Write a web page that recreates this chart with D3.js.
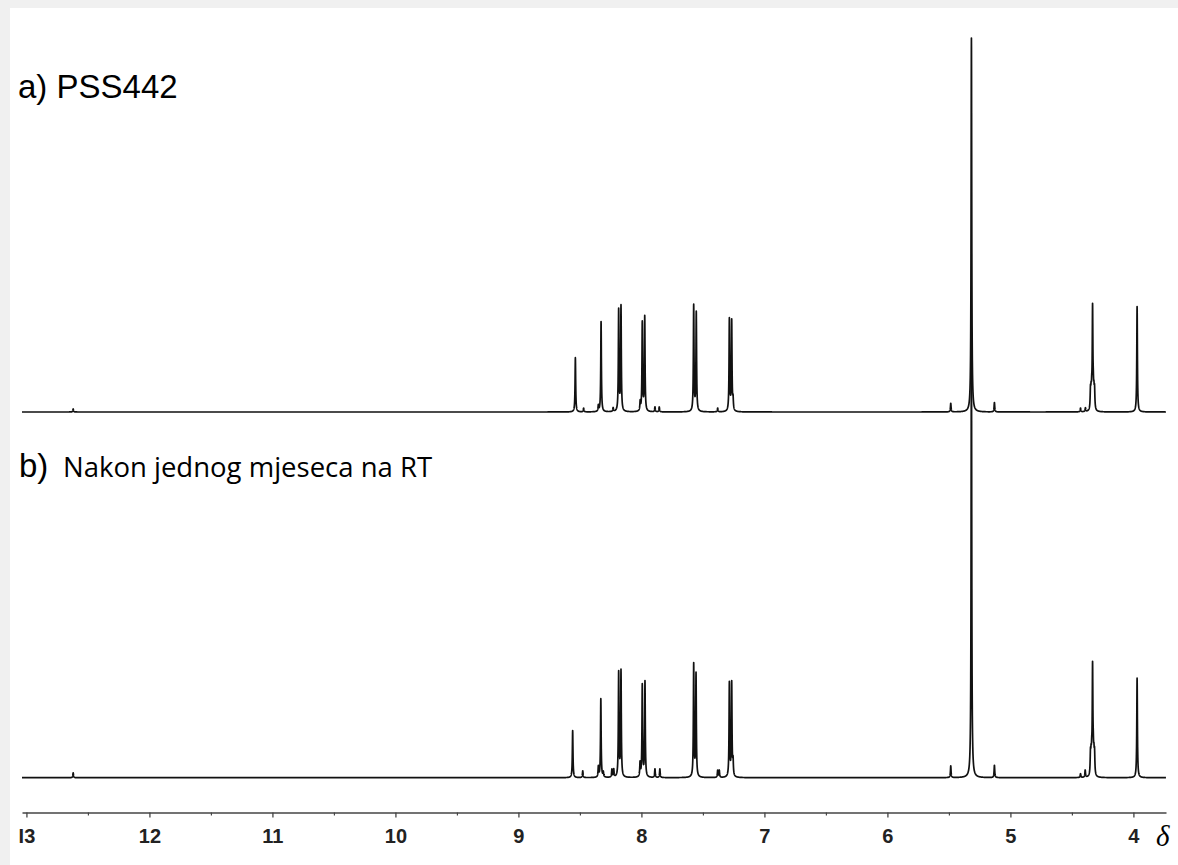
<!DOCTYPE html>
<html>
<head>
<meta charset="utf-8">
<script src="https://cdn.jsdelivr.net/npm/d3@7"></script>
<style>
  body { margin: 0; background: #f0f0f0; }
  svg { display: block; }
</style>
</head>
<body>
<div id="chart"></div>
<script>
// peak lists (ppm, relative intensity: big solvent peak of a) = 100)
const shiftsA = [12.62, 8.537, 8.47, 8.35, 8.328, 8.23, 8.185, 8.166, 8.01, 7.993, 7.973, 7.89, 7.855,
                 7.575, 7.554, 7.38, 7.285, 7.266, 7.255, 5.485, 5.317, 5.13, 4.43, 4.39,
                 4.349, 4.344, 4.339, 4.332, 4.326, 4.321, 4.316, 3.97]
const intensA = [0.8, 14.5, 1.0, 1.6, 24.1, 1.0, 27.1, 28.0, 2.4, 23.7, 25.3, 1.3, 1.3,
                 28.3, 26.4, 1.0, 24.6, 24.1, 2.8, 2.3, 100, 2.5, 1.0, 1.0,
                 5, 4, 4, 26.8, 4, 4, 5, 28.2]

const shiftsB = [12.62, 8.559, 8.477, 8.35, 8.33, 8.31, 8.24, 8.225, 8.185, 8.166, 8.011, 7.993, 7.971,
                 7.89, 7.85, 7.575, 7.556, 7.38, 7.367, 7.285, 7.266, 7.255, 5.485, 5.317, 5.13,
                 4.43, 4.392, 4.349, 4.344, 4.339, 4.332, 4.326, 4.321, 4.316, 3.97]
const intensB = [1.3, 12.6, 1.8, 2.8, 21.0, 1.3, 2.1, 2.1, 27.9, 28.3, 3.7, 24.6, 25.5,
                 2.3, 2.3, 30.1, 27.5, 1.9, 1.9, 25.1, 25.1, 3.9, 3.1, 119.2, 3.3,
                 1.0, 1.9, 5.5, 4.5, 4.5, 28.6, 4.5, 4.5, 5.5, 26.6]

const majorTicks = [13, 12, 11, 10, 9, 8, 7, 6, 5, 4]
const tickLabels = ["I3", "12", "11", "10", "9", "8", "7", "6", "5", "4"]
const minorTicks = [12.5, 11.5, 10.5, 9.5, 8.5, 7.5, 6.5, 5.5, 4.5]

const width = 1178
const height = 865
const gamma = 0.003   // line half width, ppm

var x = d3.scaleLinear()
    .domain([13.036, 3.735])
    .range([22, 1166])

var yA = d3.scaleLinear().domain([0, 100]).range([412, 38])
var yB = d3.scaleLinear().domain([0, 100]).range([777.7, 403.7])

var svg = d3.select("#chart")
    .append("svg")
    .attr("width", width)
    .attr("height", height)

// white plot sheet
svg.append("rect")
    .attr("x", 10).attr("y", 8)
    .attr("width", width - 10).attr("height", height - 8)
    .attr("fill", "white")

// build the trace from the peak list
function trace(shifts, intens) {
    var grid = d3.range(x.domain()[0], x.domain()[1], -0.0005).concat(shifts)
    grid.sort(function (a, b) { return b - a })
    return grid.map(function (s) {
        var v = 0
        for (var i = 0; i < shifts.length; i++) {
            var d = (s - shifts[i]) / gamma
            v += intens[i] / (1 + d * d)
        }
        return [s, v]
    })
}

function drawSpectrum(shifts, intens, y) {
    var line = d3.line()
        .x(function (d) { return x(d[0]) })
        .y(function (d) { return y(d[1]) })
    svg.append("path")
        .datum(trace(shifts, intens))
        .attr("d", line)
        .attr("fill", "none")
        .attr("stroke", "#111")
        .attr("stroke-width", 1.7)
        .attr("stroke-linejoin", "round")
}

drawSpectrum(shiftsB, intensB, yB)
drawSpectrum(shiftsA, intensA, yA)

// ppm axis
var axisY = 812.5
var gMajor = svg.append("g")
    .attr("transform", "translate(0," + axisY + ")")
    .call(d3.axisBottom(x)
        .tickValues(majorTicks)
        .tickFormat(function (d, i) { return tickLabels[i] })
        .tickSize(5)
        .tickSizeOuter(0)
        .tickPadding(11))
gMajor.select(".domain").attr("stroke", "#444").attr("stroke-width", 1.5)
gMajor.selectAll(".tick line").attr("stroke", "#444").attr("stroke-width", 1.3)
gMajor.selectAll(".tick text")
    .attr("font-family", "Liberation Sans, Arial, sans-serif")
    .attr("font-size", 20)
    .attr("font-weight", "bold")
    .attr("fill", "#222")

var gMinor = svg.append("g")
    .attr("transform", "translate(0," + axisY + ")")
    .call(d3.axisBottom(x)
        .tickValues(minorTicks)
        .tickFormat("")
        .tickSize(3)
        .tickSizeOuter(0))
gMinor.select(".domain").remove()
gMinor.selectAll(".tick line").attr("stroke", "#444").attr("stroke-width", 1.2)

svg.append("text")
    .attr("x", 1156).attr("y", 846)
    .attr("font-family", "Liberation Serif, serif")
    .attr("font-style", "italic")
    .attr("font-size", 29)
    .text("δ")

// panel labels
svg.append("text")
    .attr("x", 18).attr("y", 98)
    .attr("font-family", "Liberation Sans, Arial, sans-serif")
    .attr("font-size", 33)
    .text("a) PSS442")

svg.append("text")
    .attr("x", 19).attr("y", 477)
    .attr("font-family", "Liberation Sans, Arial, sans-serif")
    .attr("font-size", 33)
    .text("b)")

svg.append("text")
    .attr("x", 63).attr("y", 477)
    .attr("font-family", "Open Sans, sans-serif")
    .attr("font-size", 27.5)
    .text("Nakon jednog mjeseca na RT")
</script>
</body>
</html>
